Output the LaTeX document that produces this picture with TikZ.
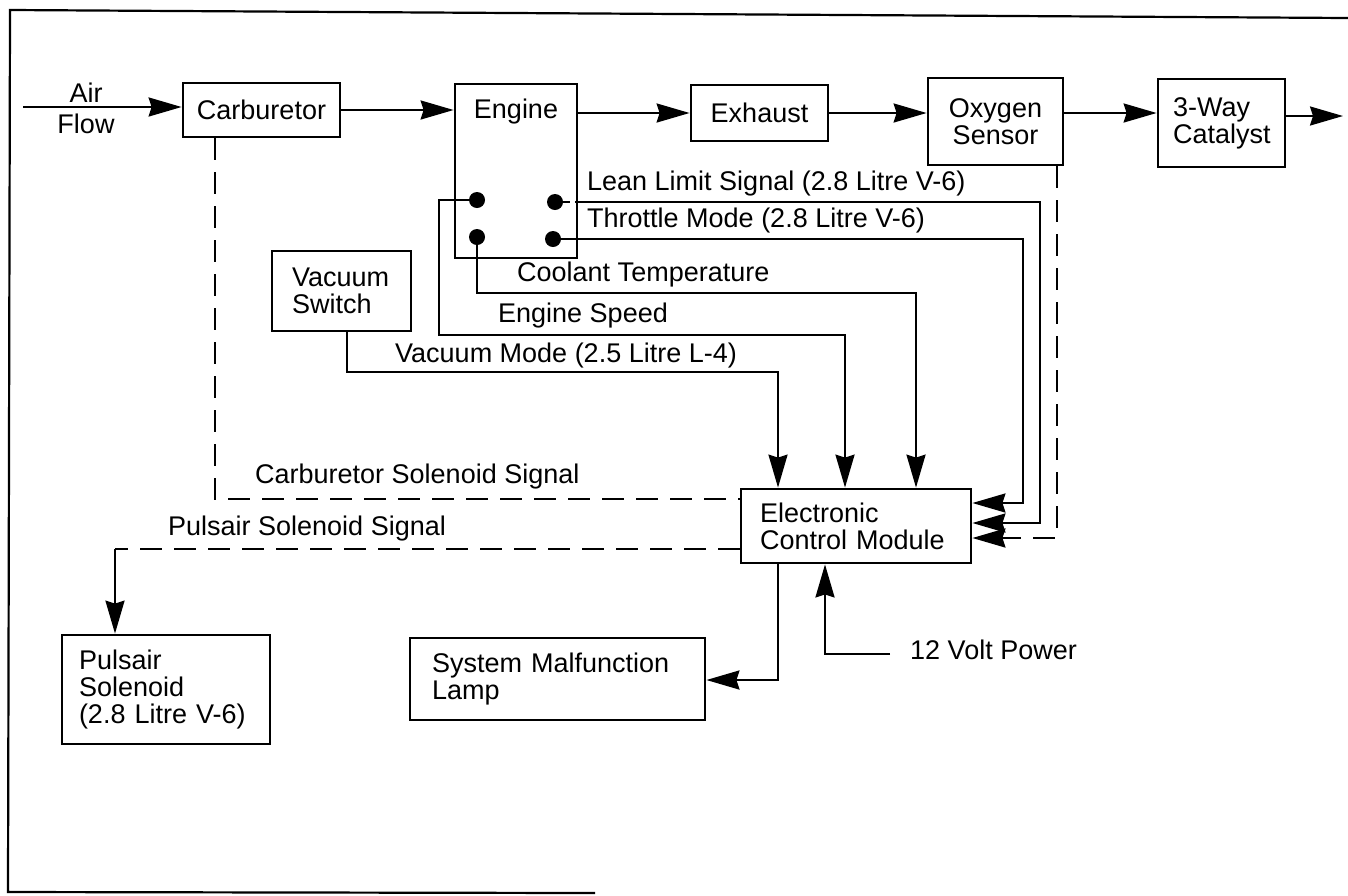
\documentclass[tikz,border=0pt]{standalone}
\usepackage{fontspec}
\setmainfont{Liberation Sans}
\usetikzlibrary{arrows.meta,calc}
\newcommand{\dgfont}{\fontsize{27pt}{27pt}\selectfont}
\begin{document}
\begin{tikzpicture}[x=1pt,y=-1pt,
  box/.style={draw, line width=2.8pt, inner sep=0pt, font=\dgfont},
  lbl/.style={inner sep=0pt, font=\dgfont},
  dot/.style={circle, fill, inner sep=0pt, minimum size=16pt},
  conn/.style={line width=2.4pt},
  arr/.style={conn, -{Stealth[length=33pt,width=19pt,inset=3pt]}},
  dsh/.style={conn, dash pattern=on 22pt off 12pt},
  dshort/.style={conn, dash pattern=on 7pt off 5pt},
  frame/.style={line width=2.2pt}]
\useasboundingbox (0,0) rectangle (1348,895);
% frame
\draw[frame] (595,893) -- (8,892) -- (10,10) -- (1348,18);
% boxes
\node[box, minimum width=157pt, minimum height=54pt] (carb) at (261.5,110) {Carburetor};
\node[box, minimum width=122pt, minimum height=174pt] (eng) at (516,171) {};
\node[lbl] (engt) at (516,112) {Engine};
\node[box, minimum width=137pt, minimum height=56pt] (exh) at (759.5,113) {Exhaust};
\node[box, minimum width=135pt, minimum height=87pt, align=center] (oxy) at (995.5,121.5) {Oxygen\\Sensor};
\node[box, minimum height=88pt, text width=97pt, inner xsep=15pt, align=left] (cat) at (1221.5,123) {3-Way\\Catalyst};
\node[box, minimum height=80pt, text width=99pt, inner xsep=20pt, align=left] (vac) at (341.5,291) {Vacuum\\Switch};
\node[box, minimum height=74pt, text width=192pt, inner xsep=19pt, align=left] (ecm) at (856,526) {Electronic\\Control Module};
\node[box, minimum height=109pt, text width=174pt, inner xsep=17pt, align=left] (puls) at (166,689.5) {Pulsair\\Solenoid\\(2.8 Litre V-6)};
\node[box, minimum height=82pt, text width=251pt, inner xsep=22pt, align=left] (lamp) at (557.5,679) {System Malfunction\\Lamp};
% engine terminals
\node[dot] (d1) at (477,200) {};
\node[dot] (d2) at (555,202) {};
\node[dot] (d3) at (477,237) {};
\node[dot] (d4) at (553,239) {};
% labels
\node[lbl, align=center] (air) at (86,108) {Air\\[4pt]Flow};
\node[lbl, anchor=mid west] (leanl) at (587,188) {Lean Limit Signal (2.8 Litre V-6)};
\node[lbl, anchor=mid west] (thrl) at (587,225) {Throttle Mode (2.8 Litre V-6)};
\node[lbl, anchor=mid west] (cooll) at (517,279) {Coolant Temperature};
\node[lbl, anchor=mid west] (spdl) at (498,320) {Engine Speed};
\node[lbl, anchor=mid west] (vacl) at (395,360) {Vacuum Mode (2.5 Litre L-4)};
\node[lbl, anchor=mid west] (csl) at (255,481) {Carburetor Solenoid Signal};
\node[lbl, anchor=mid west] (psl) at (168,533) {Pulsair Solenoid Signal};
\node[lbl, anchor=mid west] (pwl) at (910,657) {12 Volt Power};
% coordinates
\coordinate (airin) at (23,107);
\coordinate (row2) at (0,113);
\coordinate (out) at (1343,116);
\coordinate (cs) at (215,499);
\coordinate (ps) at (115,549);
\coordinate (es1) at (439,200);
\coordinate (es2) at (439,335);
\coordinate (es3) at (845,335);
\coordinate (ct1) at (477,293);
\coordinate (ct2) at (916,293);
\coordinate (vm1) at (347,372);
\coordinate (vm2) at (778,372);
\coordinate (tm1) at (1023,239);
\coordinate (tm2) at (1023,503);
\coordinate (ll0) at (577,202);
\coordinate (ll1) at (1040,202);
\coordinate (ll2) at (1040,523);
\coordinate (o1) at (1057,538);
\coordinate (lp) at (778,680);
\coordinate (pw1) at (890,654);
\coordinate (pw2) at (825,654);
% main flow
\draw[arr] (airin) -- (airin -| carb.west);
\draw[arr] (carb.east) -- (carb.east -| eng.west);
\draw[arr] (exh.west -| eng.east) -- (exh.west);
\draw[arr] (exh.east) -- (exh.east -| oxy.west);
\draw[arr] (oxy.east |- row2) -- (cat.west |- row2);
\draw[arr] (cat.east |- out) -- (out);
% signals
\draw[dsh] (carb.south -| cs) -- (cs) -- (cs -| ecm.west);
\draw[dsh] (ps -| ecm.west) -- (ps);
\draw[arr] (ps) -- (ps |- puls.north);
\draw[arr] (d1) -- (es1) -- (es2) -- (es3) -- (es3 |- ecm.north);
\draw[arr] (d3) -- (ct1) -- (ct2) -- (ct2 |- ecm.north);
\draw[arr] (vac.south -| vm1) -- (vm1) -- (vm2) -- (vm2 |- ecm.north);
\draw[arr] (d4) -- (tm1) -- (tm2) -- (tm2 -| ecm.east);
\draw[dshort] (d2) -- (ll0);
\draw[arr] (ll0) -- (ll1) -- (ll2) -- (ll2 -| ecm.east);
\draw[dsh, arr] (oxy.south -| o1) -- (o1) -- (o1 -| ecm.east);
\draw[arr] (ecm.south -| lp) -- (lp) -- (lp -| lamp.east);
\draw[arr] (pw1) -- (pw2) -- (pw2 |- ecm.south);
\end{tikzpicture}
\end{document}
